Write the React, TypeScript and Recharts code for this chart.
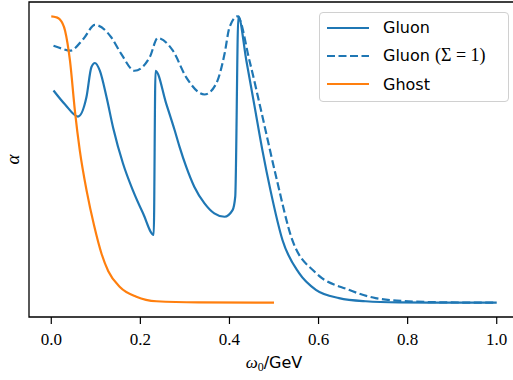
import React from 'react';
import { LineChart, Line, XAxis, YAxis, ReferenceArea, Legend, Label } from 'recharts';

const xTicks = [0, 0.2, 0.4, 0.6, 0.8, 1.0];
const seriesOrder = ['Gluon', 'Gluon (Σ = 1)', 'Ghost'];

// Gluon (solid)
const gluonX = [0.005, 0.031, 0.06, 0.079, 0.09, 0.098, 0.109, 0.124, 0.139, 0.161, 0.183, 0.206, 0.23,
  0.234, 0.258, 0.277, 0.288, 0.303, 0.321, 0.344, 0.366, 0.389, 0.407, 0.413, 0.42,
  0.438, 0.456, 0.474, 0.492, 0.519, 0.556, 0.594, 0.646, 0.706, 0.78, 0.88, 1.0];
const gluonY = [0.741, 0.692, 0.65, 0.718, 0.822, 0.837, 0.81, 0.718, 0.61, 0.486, 0.393, 0.312, 0.237,
  0.81, 0.695, 0.602, 0.544, 0.474, 0.405, 0.347, 0.312, 0.3, 0.323, 0.37, 1.0,
  0.845, 0.689, 0.532, 0.393, 0.219, 0.104, 0.045, 0.016, 0.005, 0.001, 0, 0];

// Gluon (Sigma = 1), dashed
const gluonSigmaX = [0.005, 0.024, 0.042, 0.072, 0.098, 0.135, 0.157, 0.187, 0.221, 0.239, 0.273, 0.303,
  0.344, 0.37, 0.389, 0.4, 0.418, 0.445, 0.471, 0.505, 0.541, 0.594, 0.668, 0.728, 0.802, 0.89, 1.0];
const gluonSigmaY = [0.897, 0.887, 0.88, 0.921, 0.97, 0.926, 0.869, 0.81, 0.857, 0.924, 0.88, 0.787,
  0.727, 0.764, 0.869, 0.961, 1.0, 0.845, 0.671, 0.438, 0.219, 0.104, 0.045, 0.016, 0.005, 0.001, 0];

// Ghost
const ghostX = [0, 0.0105, 0.019, 0.031, 0.042, 0.053, 0.064, 0.08, 0.096, 0.113, 0.128, 0.154, 0.191, 0.236, 0.33, 0.5];
const ghostY = [1.0, 0.997, 0.99, 0.95, 0.845, 0.671, 0.532, 0.386, 0.27, 0.17, 0.11, 0.055, 0.021, 0.005, 0.001, 0];

const toPoints = (xs: number[], ys: number[]) => xs.map((x, i) => ({ x, y: ys[i] }));

const BLUE = '#1f77b4';
const ORANGE = '#ff7f0e';
const SANS = 'DejaVu Sans';
const SERIF = 'Liberation Serif';

function XTick({ x, y, payload }: any) {
  return (
    <text x={x} y={y + 12} textAnchor="middle" fontFamily={SERIF} fontSize={17} fill="#000">
      {Number(payload.value).toFixed(1)}
    </text>
  );
}

function XAxisLabel({ viewBox }: any) {
  const cx = viewBox.x + viewBox.width / 2;
  return (
    <text x={cx} y={viewBox.y + 51} textAnchor="middle" fontSize={17} fill="#000">
      <tspan fontFamily={SERIF} fontStyle="italic">ω</tspan>
      <tspan fontFamily={SERIF} fontSize={12} dy={3}>0</tspan>
      <tspan fontFamily={SANS} fontSize={16} dy={-3}>/GeV</tspan>
    </text>
  );
}

function YAxisLabel({ viewBox }: any) {
  const cx = viewBox.x + viewBox.width / 2;
  const cy = viewBox.y + viewBox.height / 2;
  return (
    <text x={cx} y={cy} transform={`rotate(-90 ${cx} ${cy})`} textAnchor="middle" dominantBaseline="middle"
      fontFamily={SERIF} fontStyle="italic" fontSize={19} fill="#000">
      α
    </text>
  );
}

function renderLegend(props: any) {
  const entries = [...(props.payload || [])].sort(
    (a: any, b: any) => seriesOrder.indexOf(a.value) - seriesOrder.indexOf(b.value),
  );
  return (
    <div style={{
      boxSizing: 'border-box', width: 190, height: 90, border: '1px solid #d0d0d0', borderRadius: 4,
      background: 'rgba(255,255,255,0.8)', paddingTop: 0.5,
    }}>
      {entries.map((entry: any) => {
        const name: string = entry.value;
        const idx = name.indexOf('(');
        const dash = entry.payload?.strokeDasharray;
        return (
          <div key={name} style={{ height: 28.3, display: 'flex', alignItems: 'center' }}>
            <svg width={63} height={10} style={{ flex: 'none' }}>
              <line x1={7} x2={49} y1={5} y2={5} stroke={entry.color} strokeWidth={2.2} strokeDasharray={dash} />
            </svg>
            <span style={{ fontFamily: SANS, fontSize: 16, color: '#000', whiteSpace: 'pre' }}>
              {idx >= 0 ? name.slice(0, idx) : name}
              {idx >= 0 && <span style={{ fontFamily: SERIF, fontSize: 18 }}>{name.slice(idx)}</span>}
            </span>
          </div>
        );
      })}
    </div>
  );
}

export default function App() {
  return (
    <div style={{ position: 'absolute', left: 0, top: 0, width: 513, height: 380, overflow: 'hidden', background: '#fff' }}>
      <LineChart width={540} height={380} margin={{ top: 2, right: 21, bottom: 0, left: 0 }}>
        <XAxis
          type="number"
          dataKey="x"
          domain={[-0.05, 1.05]}
          ticks={xTicks}
          axisLine={false}
          tickLine={{ stroke: '#000', strokeWidth: 1.2 }}
          tickSize={7}
          tickMargin={9}
          height={63}
          tick={XTick}
          allowDataOverflow
        >
          <Label content={XAxisLabel} />
        </XAxis>
        <YAxis
          type="number"
          domain={[-0.05, 1.05]}
          width={29}
          tick={false}
          axisLine={false}
          tickLine={false}
          allowDataOverflow
        >
          <Label content={YAxisLabel} />
        </YAxis>
        <ReferenceArea x1={-0.05} x2={1.05} y1={-0.05} y2={1.05} fill="none" stroke="#000" strokeWidth={1.3} ifOverflow="visible" />
        <Line data={toPoints(gluonX, gluonY)} dataKey="y" name="Gluon" type="monotone" stroke={BLUE}
          strokeWidth={2.2} dot={false} isAnimationActive={false} />
        <Line data={toPoints(gluonSigmaX, gluonSigmaY)} dataKey="y" name="Gluon (Σ = 1)" type="monotone" stroke={BLUE}
          strokeWidth={2.2} strokeDasharray="8 3.5" dot={false} isAnimationActive={false} />
        <Line data={toPoints(ghostX, ghostY)} dataKey="y" name="Ghost" type="monotone" stroke={ORANGE}
          strokeWidth={2.2} dot={false} isAnimationActive={false} />
        <Legend
          layout="vertical"
          align="center"
          verticalAlign="middle"
          content={renderLegend}
          wrapperStyle={{ position: 'absolute', left: 319, top: 12, width: 190, height: 90 }}
        />
      </LineChart>
    </div>
  );
}
